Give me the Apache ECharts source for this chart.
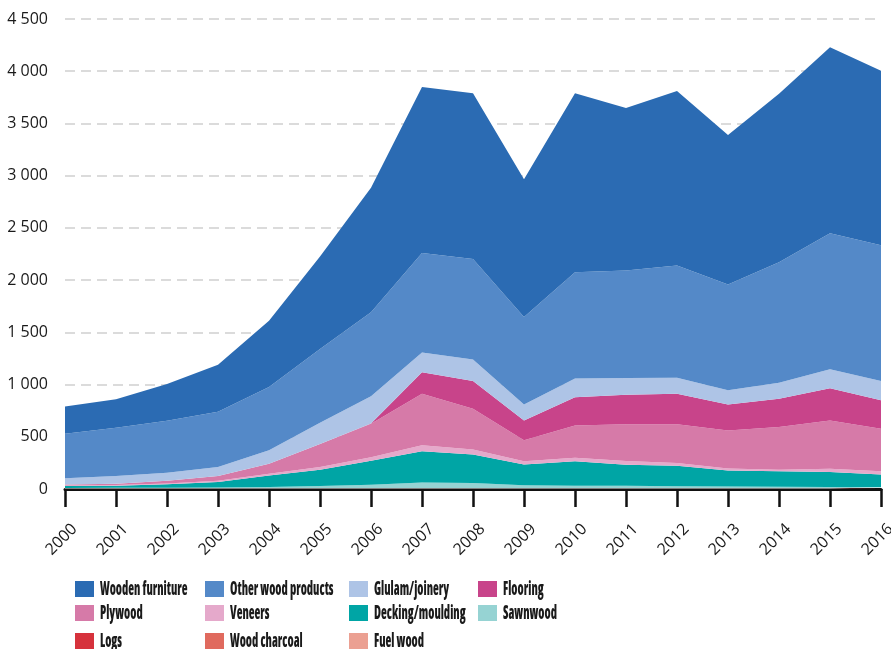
<!DOCTYPE html>
<html>
<head>
<meta charset="utf-8">
<script src="https://cdn.jsdelivr.net/npm/echarts@6/dist/echarts.min.js"></script>
<style>
  html, body { margin: 0; padding: 0; background: #fff; }
  #chart { width: 891px; height: 649px; }
</style>
</head>
<body>
<div id="chart"></div>
<script>
// Years on the x axis
const years = ['2000','2001','2002','2003','2004','2005','2006','2007','2008','2009','2010','2011','2012','2013','2014','2015','2016'];

// Values per product group (stacked areas, bottom to top)
const fuelWood       = [1, 1, 1, 1, 1, 1, 1, 1, 1, 1, 1, 1, 1, 1, 1, 1, 1];
const woodCharcoal   = [1, 1, 1, 1, 1, 1, 1, 1, 1, 1, 1, 1, 1, 1, 1, 1, 1];
const logs           = [2, 2, 2, 2, 2, 2, 2, 2, 2, 2, 2, 2, 2, 2, 2, 2, 2];
const sawnwood       = [6, 7, 9, 11, 16, 24, 36, 59, 54, 31, 26, 26, 23, 20, 18, 16, 13];
const decking        = [18, 21, 32, 51, 110, 157, 230, 299, 273, 199, 235, 203, 196, 154, 147, 142, 123];
const veneers        = [5, 6, 7, 14, 15, 25, 33, 56, 46, 32, 35, 35, 26, 19, 16, 32, 31];
const plywood        = [9, 12, 28, 44, 97, 222, 322, 495, 392, 200, 309, 351, 370, 364, 408, 463, 406];
const flooring       = [0, 0, 0, 0, 0, 0, 2, 204, 265, 191, 269, 284, 294, 247, 272, 307, 272];
const glulam         = [62, 74, 76, 86, 128, 203, 260, 189, 206, 151, 179, 160, 153, 137, 153, 182, 185];
const otherProducts  = [426, 463, 498, 530, 606, 705, 806, 954, 962, 839, 1018, 1029, 1075, 1014, 1152, 1302, 1299];
const furniture      = [260, 273, 351, 450, 634, 885, 1192, 1590, 1588, 1318, 1715, 1556, 1669, 1431, 1615, 1782, 1672];

// Y axis ticks
const yMax = 4500;
const yStep = 500;

const layers = [
  { name: 'Fuel wood',           data: fuelWood,      color: '#eba092' },
  { name: 'Wood charcoal',       data: woodCharcoal,  color: '#e06a5e' },
  { name: 'Logs',                data: logs,          color: '#d6323c' },
  { name: 'Sawnwood',            data: sawnwood,      color: '#96d3d3' },
  { name: 'Decking/moulding',    data: decking,       color: '#00a5a5' },
  { name: 'Veneers',             data: veneers,       color: '#e5a9cb' },
  { name: 'Plywood',             data: plywood,       color: '#d67aa8' },
  { name: 'Flooring',            data: flooring,      color: '#c8448a' },
  { name: 'Glulam/joinery',      data: glulam,        color: '#aec4e6' },
  { name: 'Other wood products', data: otherProducts, color: '#5489c8' },
  { name: 'Wooden furniture',    data: furniture,     color: '#2b6bb3' }
];

// Legend key: 4 columns x 3 rows, drawn as swatches with narrow bold labels
const legendCols = [75, 205, 349, 478];
const legendRows = [589, 613, 641];
const legendGrid = [
  ['Wooden furniture', 'Other wood products', 'Glulam/joinery', 'Flooring'],
  ['Plywood', 'Veneers', 'Decking/moulding', 'Sawnwood'],
  ['Logs', 'Wood charcoal', 'Fuel wood']
];
const colorOf = name => layers.find(l => l.name === name).color;

const legendGraphics = [];
legendGrid.forEach((row, r) => row.forEach((name, c) => {
  const x = legendCols[c], cy = legendRows[r];
  legendGraphics.push({
    type: 'rect',
    shape: { x: x, y: cy - 8, width: 19, height: 16 },
    style: { fill: colorOf(name) },
    silent: true
  });
  legendGraphics.push({
    type: 'text',
    x: x + 25,
    y: cy + 1,
    scaleX: 0.63,
    style: {
      text: name,
      font: '800 condensed 19px "Open Sans", sans-serif',
      fill: '#1a1a1a',
      textAlign: 'left',
      textVerticalAlign: 'middle'
    },
    silent: true
  });
}));

const fmt = v => String(v).replace(/\B(?=(\d{3})+(?!\d))/g, ' ');

const chart = echarts.init(document.getElementById('chart'), null, { renderer: 'canvas' });

chart.setOption({
  animation: false,
  backgroundColor: '#fff',
  grid: { left: 65, right: 10, top: 19, bottom: 160, containLabel: false, outerBoundsMode: 'none' },
  graphic: legendGraphics,
  xAxis: {
    type: 'category',
    data: years,
    boundaryGap: false,
    axisLine: { lineStyle: { color: '#111', width: 3 } },
    axisTick: { show: true, length: 18, lineStyle: { color: '#111', width: 2.5 } },
    axisLabel: {
      rotate: 45,
      margin: 47,
      align: 'center',
      verticalAlign: 'middle',
      padding: [0, 10, 0, 0],
      fontFamily: '"Open Sans", sans-serif',
      fontSize: 16,
      color: '#1a1a1a'
    }
  },
  yAxis: {
    type: 'value',
    min: 0,
    max: yMax,
    interval: yStep,
    axisLine: { show: false },
    axisTick: { show: false },
    splitLine: { lineStyle: { color: '#cfcfcf', width: 1.5, type: [10, 6] } },
    axisLabel: {
      formatter: fmt,
      margin: 17,
      fontFamily: '"Open Sans", sans-serif',
      fontSize: 16,
      color: '#1a1a1a'
    }
  },
  series: layers.map(l => ({
    name: l.name,
    type: 'line',
    stack: 'total',
    data: l.data,
    symbol: 'none',
    color: l.color,
    lineStyle: { width: 0 },
    areaStyle: { color: l.color, opacity: 1 },
    itemStyle: { color: l.color }
  }))
});
</script>
</body>
</html>
